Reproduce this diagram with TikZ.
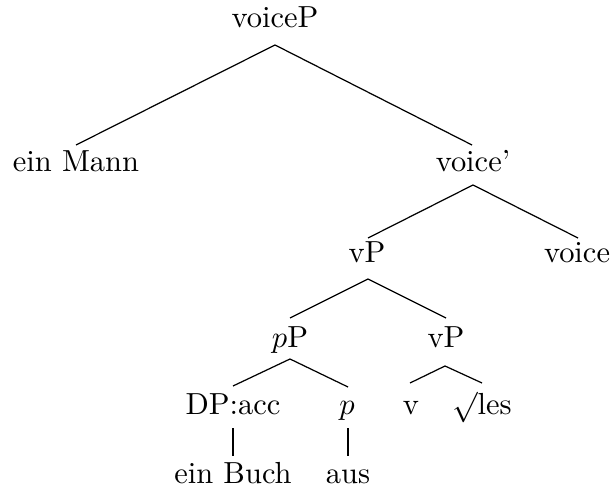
\documentclass[tikz,border=0pt]{standalone}
\usetikzlibrary{calc}
\begin{document}
\begin{tikzpicture}[x=0.328pt,y=-0.328pt,
  lbl/.style={anchor=base,inner sep=0pt},
  branch/.style={line width=0.4pt}]
\useasboundingbox (0,0) rectangle (613,492);

% tree labels, placed on their baselines
\node[lbl] (voiceP) at (275,28)  {voiceP};
\node[lbl] (mann)   at (76,172)  {ein Mann};
\node[lbl] (voiceB) at (473,172) {voice'};
\node[lbl] (vPa)    at (367,263) {vP};
\node[lbl] (voice)  at (577,263) {voice};
\node[lbl] (pP)     at (290,348) {$p$P};
\node[lbl] (vPb)    at (446,348) {vP};
\node[lbl] (dp)     at (233,415) {DP:acc};
\node[lbl] (p)      at (347,415) {$p$};
\node[lbl] (v)      at (411,415) {v};
\node[lbl] (les)    at (482,415) {$\surd$les};
\node[lbl] (buch)   at (233,483) {ein Buch};
\node[lbl] (aus)    at (348,483) {aus};

% branches
\draw[branch] ($(voiceP.base)+(0,17)$) -- ($(mann.base)+(0,-27)$);
\draw[branch] ($(voiceP.base)+(0,17)$) -- ($(voiceB.base)+(-1,-27)$);

\draw[branch] ($(voiceB.base)+(0,13)$) -- ($(vPa.base)+(1,-25)$);
\draw[branch] ($(voiceB.base)+(0,13)$) -- ($(voice.base)+(1,-25)$);

\draw[branch] ($(vPa.base)+(1,16)$) -- ($(pP.base)+(0,-30)$);
\draw[branch] ($(vPa.base)+(1,16)$) -- ($(vPb.base)+(0,-30)$);

\draw[branch] ($(pP.base)+(0,11)$) -- ($(dp.base)+(0,-29)$);
\draw[branch] ($(pP.base)+(0,11)$) -- ($(p.base)+(1,-28)$);

\draw[branch] ($(vPb.base)+(-1,18)$) -- ($(v.base)+(-1,-32)$);
\draw[branch] ($(vPb.base)+(-1,18)$) -- ($(les.base)+(0,-32)$);

\draw[branch] ($(dp.base)+(0,13)$) -- ($(buch.base)+(0,-27)$);
\draw[branch] ($(p.base)+(1,13)$) -- ($(aus.base)+(0,-27)$);
\end{tikzpicture}
\end{document}
